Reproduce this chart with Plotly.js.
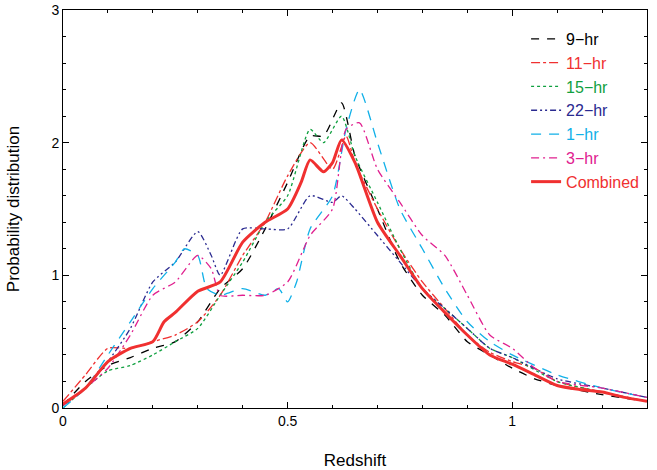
<html>
<head>
<script src="https://cdn.plot.ly/plotly-3.0.1.min.js"></script>
</head>
<body style="margin:0">
<div id="chart" style="width:657px;height:470px"></div>
<script>
// values
const x9 = [0,0.05,0.1,0.15,0.2,0.25,0.3,0.35,0.4,0.45,0.5,0.55,0.58,0.62,0.65,0.7,0.75,0.8,0.85,0.9,0.95,1.0,1.05,1.1,1.2,1.3];
const y9 = [0.02,0.2,0.32,0.38,0.45,0.5,0.65,0.9,1.05,1.35,1.7,2.05,2.05,2.3,1.9,1.5,1.1,0.85,0.7,0.5,0.4,0.3,0.22,0.17,0.1,0.05];
const x11 = [0,0.05,0.1,0.15,0.2,0.25,0.3,0.35,0.4,0.45,0.5,0.55,0.6,0.63,0.65,0.7,0.75,0.8,0.85,0.9,0.95,1.0,1.05,1.1,1.2,1.3];
const y11 = [0.05,0.25,0.45,0.45,0.5,0.55,0.65,0.85,1.15,1.4,1.75,2.0,1.8,2.05,1.85,1.5,1.2,0.95,0.75,0.55,0.42,0.35,0.3,0.2,0.12,0.05];
const x15 = [0,0.05,0.1,0.15,0.2,0.25,0.3,0.35,0.4,0.45,0.5,0.55,0.58,0.62,0.65,0.7,0.75,0.8,0.85,0.9,0.95,1.0,1.1,1.2,1.3];
const y15 = [0.0,0.15,0.28,0.32,0.4,0.5,0.6,0.85,1.1,1.4,1.6,2.1,2.0,2.2,1.9,1.55,1.2,0.9,0.75,0.6,0.45,0.38,0.2,0.12,0.05];
const x22 = [0,0.05,0.1,0.15,0.2,0.25,0.3,0.33,0.35,0.4,0.45,0.5,0.55,0.6,0.62,0.65,0.7,0.75,0.8,0.85,0.9,0.95,1.0,1.1,1.2,1.3];
const y22 = [0.02,0.15,0.35,0.6,0.95,1.1,1.33,1.15,1.0,1.35,1.35,1.35,1.6,1.55,1.6,1.5,1.3,1.1,0.9,0.75,0.6,0.45,0.38,0.22,0.15,0.08];
const x1 = [0,0.05,0.1,0.15,0.2,0.25,0.27,0.3,0.32,0.35,0.4,0.45,0.48,0.5,0.52,0.55,0.6,0.63,0.66,0.7,0.75,0.8,0.85,0.9,0.95,1.0,1.1,1.2,1.3];
const y1 = [0.0,0.15,0.4,0.65,0.9,1.1,1.2,1.15,0.9,0.85,0.9,0.85,0.9,0.8,0.95,1.35,1.6,2.1,2.4,2.0,1.5,1.2,0.9,0.65,0.5,0.4,0.25,0.15,0.08];
const x3 = [0,0.05,0.1,0.15,0.2,0.25,0.3,0.33,0.35,0.4,0.45,0.5,0.55,0.6,0.63,0.66,0.7,0.75,0.8,0.85,0.9,0.95,1.0,1.05,1.1,1.2,1.3];
const y3 = [0.02,0.15,0.3,0.55,0.85,0.95,1.15,1.05,0.85,0.85,0.85,0.95,1.3,1.5,2.1,2.15,1.8,1.55,1.3,1.15,0.85,0.55,0.45,0.3,0.2,0.15,0.08];
const xc = [0,0.05,0.1,0.15,0.2,0.225,0.25,0.3,0.35,0.4,0.45,0.5,0.53,0.55,0.58,0.6,0.62,0.65,0.7,0.75,0.8,0.85,0.9,0.95,1.0,1.05,1.1,1.15,1.2,1.25,1.3];
const yc = [0.03,0.15,0.35,0.45,0.5,0.65,0.72,0.88,0.95,1.25,1.4,1.5,1.7,1.87,1.78,1.85,2.02,1.85,1.4,1.15,0.9,0.72,0.55,0.4,0.33,0.25,0.17,0.14,0.12,0.08,0.05];

function tr(x, y, name, color, dash, width) {
  return {x: x, y: y, type: 'scatter', mode: 'lines', line: {color: color, dash: dash, width: width || 1.3, shape: 'spline', smoothing: 0.6},
    name: '<span style="color:' + color + '">' + name + '</span>'};
}
let data = [
  tr(x9, y9, '9\u2212hr', '#000000', '8px,8px'),
  tr(x11, y11, '11\u2212hr', '#f03030', 'dashdot'),
  tr(x15, y15, '15\u2212hr', '#10a040', 'dot'),
  tr(x22, y22, '22\u2212hr', '#2a2a90', '6px,3px,2px,3px,2px,3px'),
  tr(x1, y1, '1\u2212hr', '#10b0e8', '10px,8px'),
  tr(x3, y3, '3\u2212hr', '#e0208f', '8px,4px,2px,4px'),
  tr(xc, yc, 'Combined', '#f03030', 'solid', 3)
];
let ax = {showgrid: false, zeroline: false, showline: true, mirror: 'ticks', linecolor: '#000', linewidth: 1,
  ticks: 'inside', ticklen: 6, tickcolor: '#000'};
let layout = {
  width: 657, height: 470,
  margin: {l: 63, r: 10, t: 10, b: 62},
  font: {family: 'Liberation Sans, Arial', size: 14, color: '#000'},
  showlegend: true,
  legend: {x: 0.995, y: 0.97, xanchor: 'right', yanchor: 'top', bgcolor: 'rgba(0,0,0,0)', font: {size: 16}, tracegroupgap: 4},
  xaxis: Object.assign({}, ax, {range: [0, 1.3], tickvals: [0, 0.5, 1], ticktext: ['0', '0.5', '1'],
    minor: {ticks: 'inside', ticklen: 3, dtick: 0.1, tickcolor: '#000'}, title: {text: 'Redshift'}}),
  yaxis: Object.assign({}, ax, {range: [0, 3], dtick: 1,
    minor: {ticks: 'inside', ticklen: 3, dtick: 0.2, tickcolor: '#000'}, title: {text: 'Probability distribution'}})
};
Plotly.newPlot('chart', data, layout, {displayModeBar: false});
</script>
</body>
</html>
